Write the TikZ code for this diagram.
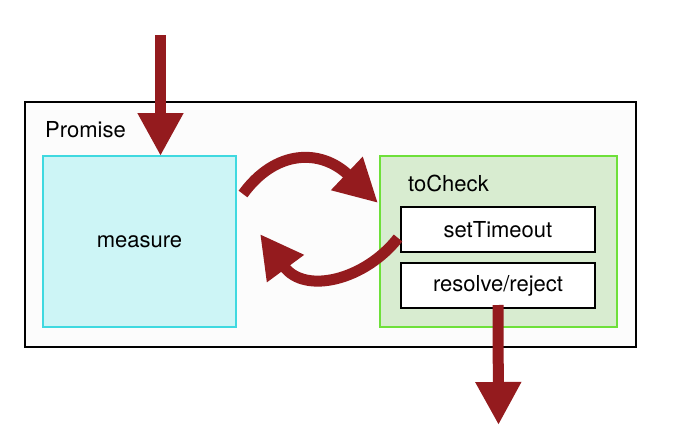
\documentclass[tikz,border=0pt]{standalone}
\usepackage{fontspec}
\setmainfont{TeX Gyre Heros}
\usetikzlibrary{arrows.meta}
\definecolor{arrowred}{HTML}{941B1E}
\definecolor{cyanfill}{HTML}{CDF5F6}
\definecolor{cyanline}{HTML}{3FD9E0}
\definecolor{greenfill}{HTML}{D8ECD0}
\definecolor{greenline}{HTML}{6EE03A}
\definecolor{outerfill}{HTML}{FCFCFC}
\tikzset{
  box/.style={rectangle, inner sep=0pt, outer sep=0pt, font=\fontsize{22}{26}\selectfont},
  bigarrow/.style={draw=arrowred, line width=11pt, line cap=butt,
    -{Triangle[length=43pt,width=43pt]}, arrowred},
  label/.style={inner sep=0pt, font=\fontsize{22}{26}\selectfont, anchor=west}
}
\begin{document}
\begin{tikzpicture}[x=1pt,y=-1pt]
\useasboundingbox[fill=white] (0,0) rectangle (680,447);
\node[box, draw=black, line width=1.5pt, fill=outerfill, minimum width=611pt, minimum height=245pt] (outer) at (330.5,224.5) {};
\node[label] (promise) at (45,130) {Promise};
\node[box, draw=cyanline, line width=1.3pt, fill=cyanfill, minimum width=193pt, minimum height=171pt] (measure) at (139.5,241.5) {measure};
\node[box, draw=greenline, line width=1.3pt, fill=greenfill, minimum width=237pt, minimum height=171pt] (tocheck) at (498.5,241.5) {};
\node[label] (tochecklabel) at (408,183) {toCheck};
\node[box, draw=black, line width=1.3pt, fill=white, minimum width=194pt, minimum height=45pt] (settimeout) at (498,229.5) {setTimeout};
\node[box, draw=black, line width=1.3pt, fill=white, minimum width=194pt, minimum height=45pt] (resolve) at (498,285.5) {resolve/reject};
% arrows
\coordinate (topstart) at (160.5,35);
\draw[bigarrow] (topstart) -- (measure.north -| topstart);
\coordinate (bottomtip) at (498.5,425);
\draw[bigarrow] ([yshift=3pt]resolve.south) -- (bottomtip);
\coordinate (loopAstart) at (243,194);
\coordinate (loopAtip) at (378,203);
\draw[bigarrow] (loopAstart) .. controls (275,150) and (320,148) .. (loopAtip);
\coordinate (loopBstart) at (398,238);
\coordinate (loopBtip) at (260,234);
\draw[bigarrow] (loopBstart) .. controls (365,280) and (305,295) .. (loopBtip);
\end{tikzpicture}
\end{document}
